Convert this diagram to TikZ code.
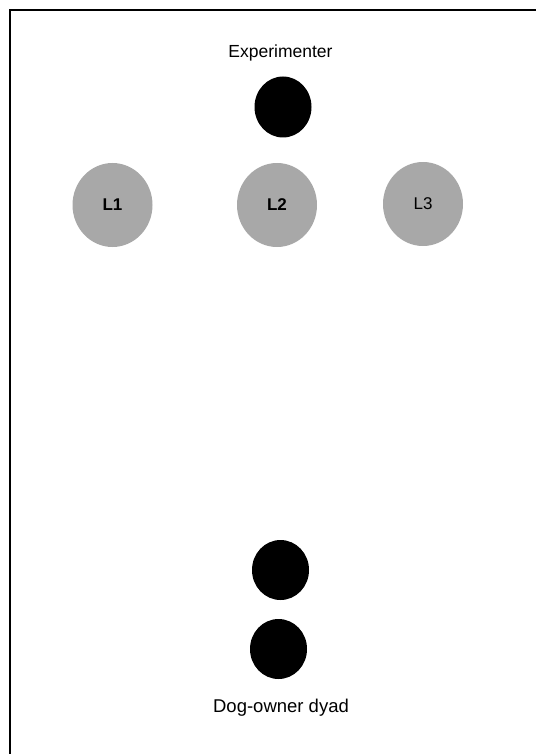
\documentclass[tikz,border=0pt]{standalone}
\usepackage{fontspec}
\setmainfont{Liberation Sans}
\definecolor{Lcolor}{HTML}{A8A8A8}
\usetikzlibrary{shapes.geometric}

\begin{document}
\begin{tikzpicture}[x=1pt, y=-1pt]

    \tikzset{%
        person/.style={ellipse, fill=black, inner sep=0pt,
                minimum width=57pt, minimum height=60pt},
        location/.style={ellipse, fill=Lcolor, inner sep=0pt,
                minimum width=80pt, minimum height=84pt,
                font=\fontsize{17pt}{0pt}\selectfont}
    }

    \useasboundingbox (0, 0) rectangle (535, 754);
    \draw [line width=2pt] (540, 10) -- (10, 10) -- (10, 760);

    \node (exptext) at (280.5, 53) {\fontsize{17.5pt}{0pt}\selectfont Experimenter};
    \node [person, minimum height=61pt] (experimenter) at (283, 107) {};

    \node [location] (L1) at (112.5, 205) {\bfseries L1};
    \node [location] (L2) at (277, 205) {\bfseries L2};
    \node [location] (L3) at (423, 204) {L3};

    \node [person] (dog) at (280.5, 570) {};
    \node [person] (owner) at (278.5, 649) {};
    \node (dyadtext) at (281, 708) {\fontsize{18.5pt}{0pt}\selectfont Dog-owner dyad};

\end{tikzpicture}
\end{document}
